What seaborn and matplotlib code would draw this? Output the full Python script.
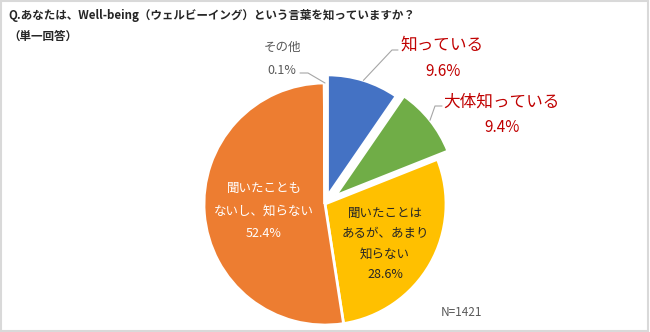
import matplotlib
matplotlib.use("Agg")
import matplotlib.pyplot as plt
from matplotlib.patches import Rectangle
import numpy as np
import seaborn as sns

# Survey question and answer shares (%)
title = "Q.あなたは、Well-being（ウェルビーイング）という言葉を知っていますか？"
subtitle = "（単一回答）"
categories = ["知っている", "大体知っている", "聞いたことは\nあるが、あまり\n知らない",
              "聞いたことも\nないし、知らない", "その他"]
shares = [9.6, 9.4, 28.6, 52.4, 0.1]
sample_note = "N=1421"

colors = ["#4472C4", "#70AD47", "#FFC000", "#ED7D31", "#A5A5A5"]
explode = [0.07, 0.11, 0, 0, 0]

sns.set_theme(style="white")
plt.rcParams['font.family'] = ['Noto Sans CJK JP', 'DejaVu Sans']

W, H = 650, 332
CX, CY, R = 325, 204, 121  # pie centre and radius in pixels

fig = plt.figure(figsize=(W / 100, H / 100), dpi=100)
ax = fig.add_axes([0, 0, 1, 1])

wedges, _ = ax.pie(shares, colors=colors, explode=explode, startangle=90,
                   counterclock=False, radius=1, normalize=True,
                   wedgeprops=dict(edgecolor="white", linewidth=2))

ax.set_xlim(-CX / R, (W - CX) / R)
ax.set_ylim(-(H - CY) / R, CY / R)
ax.set_aspect("auto")
ax.axis("off")


def px(x, y):
    """Pixel position (from top-left) to data coordinates."""
    return ((x - CX) / R, (CY - y) / R)


def arc_point(w, frac=0.5):
    ang = np.deg2rad(w.theta1 + (w.theta2 - w.theta1) * frac)
    return (w.center[0] + w.r * np.cos(ang), w.center[1] + w.r * np.sin(ang))


lead_color = "#A6A6A6"
red = "#C00000"
grey = "#595959"

# Title block
ax.text(*px(8, 16), title, ha="left", va="center", fontsize=8.3, color="#262626",
        fontweight="bold")
ax.text(*px(8, 36), subtitle, ha="left", va="center", fontsize=8.3, color="#262626",
        fontweight="bold")

# 知っている
ax.text(*px(442, 45), categories[0], ha="center", va="center", fontsize=12, color=red)
ax.text(*px(443, 72), f"{shares[0]}%", ha="center", va="center", fontsize=11, color=red)
p = arc_point(wedges[0])
e1, e2 = px(392, 50), px(398, 50)
ax.plot([p[0], e1[0], e2[0]], [p[1], e1[1], e2[1]], color=lead_color, lw=0.8)

# 大体知っている
ax.text(*px(502, 102), categories[1], ha="center", va="center", fontsize=12, color=red)
ax.text(*px(502, 128), f"{shares[1]}%", ha="center", va="center", fontsize=11, color=red)
p = arc_point(wedges[1])
e1, e2 = px(435, 106), px(442, 106)
ax.plot([p[0], e1[0], e2[0]], [p[1], e1[1], e2[1]], color=lead_color, lw=0.8)

# 聞いたことはあるが、あまり知らない
ax.text(*px(385, 244), f"{categories[2]}\n{shares[2]}%", ha="center", va="center",
        fontsize=9, color="#262626", linespacing=1.75)

# 聞いたこともないし、知らない
ax.text(*px(264, 211), f"{categories[3]}\n{shares[3]}%", ha="center", va="center",
        fontsize=9, color="white", linespacing=1.95)

# その他
ax.text(*px(282, 47), categories[4], ha="center", va="center", fontsize=9, color=grey)
ax.text(*px(282, 71), f"{shares[4]}%", ha="center", va="center", fontsize=9, color=grey)
p = arc_point(wedges[4], 0.0)
e1, e2 = px(308, 73), px(300, 73)
ax.plot([p[0], e1[0], e2[0]], [p[1], e1[1], e2[1]], color=lead_color, lw=0.8)

# Sample size
ax.text(*px(461, 312), sample_note, ha="center", va="center", fontsize=8.5, color=grey)

# Light frame around the figure
fig.patches.append(Rectangle((0.002, 0.004), 0.995, 0.992, transform=fig.transFigure,
                             fill=False, edgecolor="#D9D9D9", linewidth=1.5))

fig.savefig("out.png", dpi=100, facecolor="white")
